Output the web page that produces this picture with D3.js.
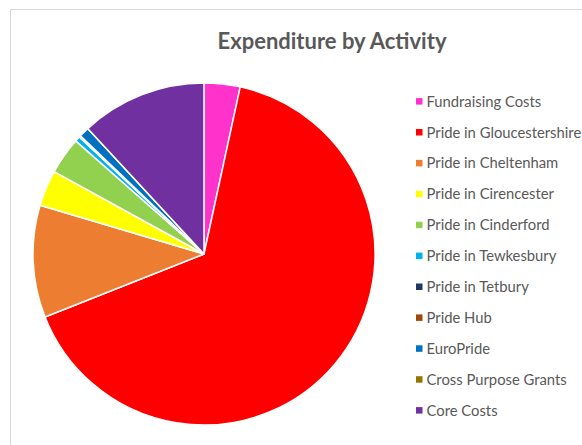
<!DOCTYPE html>
<html>
<head>
<meta charset="utf-8">
<script src="https://cdn.jsdelivr.net/npm/d3@7"></script>
<style>
  body { margin: 0; background: #fff; }
  text { font-family: Lato, "Open Sans", sans-serif; }
</style>
</head>
<body>
<svg id="chart" width="582" height="445"></svg>
<script>
// categories, in drawing order (clockwise from 12 o'clock)
var activities = ["Fundraising Costs", "Pride in Gloucestershire", "Pride in Cheltenham",
  "Pride in Cirencester", "Pride in Cinderford", "Pride in Tewkesbury", "Pride in Tetbury",
  "Pride Hub", "EuroPride", "Cross Purpose Grants", "Core Costs"];
// share of expenditure (%)
var shares = [3.4, 65.6, 10.6, 3.4, 3.5, 0.5, 0.15, 0, 0.95, 0, 11.9];
var colours = ["#ff33cc", "#ff0000", "#ed7d31", "#ffff00", "#92d050", "#00b0f0",
  "#1f3864", "#9e480e", "#0070c0", "#997300", "#7030a0"];

var svg = d3.select("#chart"),
    width = +svg.attr("width"),
    height = +svg.attr("height");

// chart area frame
svg.append("rect")
  .attr("x", 10.5).attr("y", 9.5)
  .attr("width", 600).attr("height", 460)
  .attr("fill", "none")
  .attr("stroke", "#d9d9d9");

svg.append("text")
  .attr("x", 332)
  .attr("y", 49)
  .attr("text-anchor", "middle")
  .attr("font-size", "22px")
  .attr("font-weight", "bold")
  .attr("fill", "#595959")
  .text("Expenditure by Activity");

var data = activities.map(function(a, i) { return {name: a, value: shares[i]}; });

var color = d3.scaleOrdinal().domain(activities).range(colours);

var pie = d3.pie().sort(null).value(function(d) { return d.value; });
var arc = d3.arc().innerRadius(0).outerRadius(171);

var g = svg.append("g").attr("transform", "translate(204,254)");

g.selectAll(".slice")
  .data(pie(data))
  .enter().append("path")
    .attr("class", "slice")
    .attr("d", arc)
    .attr("fill", function(d) { return color(d.data.name); })
    .attr("stroke", "#fff")
    .attr("stroke-width", 1.5)
    .attr("stroke-linejoin", "round");

// legend
var y0 = 101.3, spacingy = 30.9;
var legend = svg.selectAll(".legend")
  .data(activities)
  .enter().append("g")
    .attr("class", "legend")
    .attr("transform", function(d, i) { return "translate(416," + (y0 + i * spacingy) + ")"; });

legend.append("rect")
  .attr("x", 0).attr("y", -3.2)
  .attr("width", 6.5).attr("height", 6.5)
  .attr("fill", function(d) { return color(d); });

legend.append("text")
  .attr("x", 10.5)
  .attr("y", 5.3)
  .attr("font-size", "14.8px")
  .attr("fill", "#595959")
  .text(function(d) { return d; });
</script>
</body>
</html>
